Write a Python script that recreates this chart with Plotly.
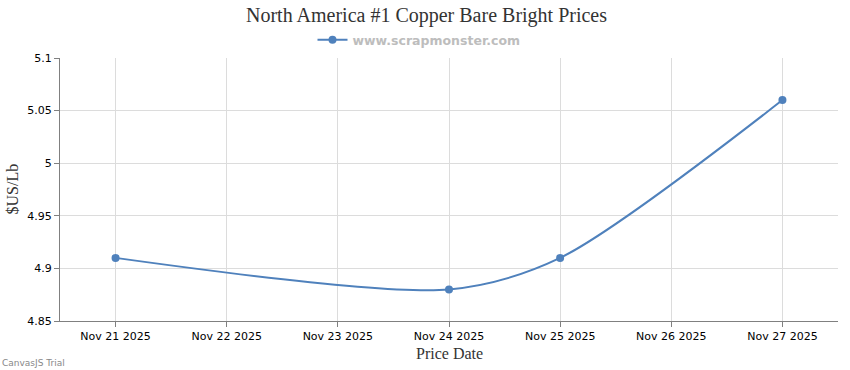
import plotly.graph_objects as go

dates = ["2025-11-21", "2025-11-24", "2025-11-25", "2025-11-27"]
prices = [4.91, 4.88, 4.91, 5.06]
tick_dates = ["2025-11-21", "2025-11-22", "2025-11-23", "2025-11-24", "2025-11-25", "2025-11-26", "2025-11-27"]
tick_labels = ["Nov 21 2025", "Nov 22 2025", "Nov 23 2025", "Nov 24 2025", "Nov 25 2025", "Nov 26 2025", "Nov 27 2025"]
y_ticks = [4.85, 4.9, 4.95, 5.0, 5.05, 5.1]
y_labels = ["4.85", "4.9", "4.95", "5", "5.05", "5.1"]

color = "#4f81bc"
serif = "Liberation Serif, Times New Roman, serif"
sans = "DejaVu Sans, Verdana, sans-serif"
plot_h = 370 - 58 - 49
plot_w = 850 - 60 - 12

fig = go.Figure()
fig.add_trace(go.Scatter(
    x=dates, y=prices, mode="lines+markers", name="www.scrapmonster.com",
    line=dict(color=color, width=2, shape="spline", smoothing=0.8),
    marker=dict(color=color, size=8),
))

fig.update_layout(
    width=850, height=370,
    margin=dict(l=60, r=12, t=58, b=49),
    paper_bgcolor="white", plot_bgcolor="white",
    showlegend=True,
    legend=dict(orientation="h", x=0.5 - 30 / plot_w, xanchor="center", y=1 + 18 / plot_h, yanchor="middle",
                font=dict(family=sans, size=12.5, color="#bdbdbd", weight="bold"),
                itemwidth=30, bgcolor="rgba(0,0,0,0)"),
    xaxis=dict(
        type="date", range=["2025-11-20 12:00", "2025-11-27 12:00"],
        tickvals=tick_dates, ticktext=tick_labels,
        tickfont=dict(family=sans, size=11, color="#000"),
        showgrid=True, gridcolor="#dcdcdc", gridwidth=1,
        showline=True, linecolor="#808080", linewidth=1,
        ticks="outside", ticklen=5, tickcolor="#808080",
        zeroline=False, automargin=False,
    ),
    yaxis=dict(
        range=[4.85, 5.1], tickvals=y_ticks, ticktext=y_labels,
        tickfont=dict(family=sans, size=11, color="#000"),
        showgrid=True, gridcolor="#dcdcdc", gridwidth=1,
        showline=True, linecolor="#808080", linewidth=1,
        ticks="outside", ticklen=5, tickcolor="#808080",
        zeroline=False, automargin=False,
    ),
    annotations=[
        dict(text="North America #1 Copper Bare Bright Prices", xref="paper", yref="paper",
             x=0.5 - 23 / plot_w, y=1 + 43 / plot_h, xanchor="center", yanchor="middle", showarrow=False,
             font=dict(family=serif, size=20, color="#333")),
        dict(text="$US/Lb", xref="paper", yref="paper", x=-48 / plot_w, y=0.5, xanchor="center", yanchor="middle",
             textangle=-90, showarrow=False, font=dict(family=serif, size=16, color="#333")),
        dict(text="Price Date", xref="paper", yref="paper", x=0.5, y=-32 / plot_h, xanchor="center", yanchor="middle",
             showarrow=False, font=dict(family=serif, size=16, color="#333")),
        dict(text="CanvasJS Trial", xref="paper", yref="paper", x=-60 / plot_w, y=-42 / plot_h,
             xanchor="left", yanchor="middle", showarrow=False,
             font=dict(family=sans, size=9, color="#888")),
    ],
)

fig.write_html("out.html", config={"displayModeBar": False},
               post_script="document.body.style.margin='0';")
